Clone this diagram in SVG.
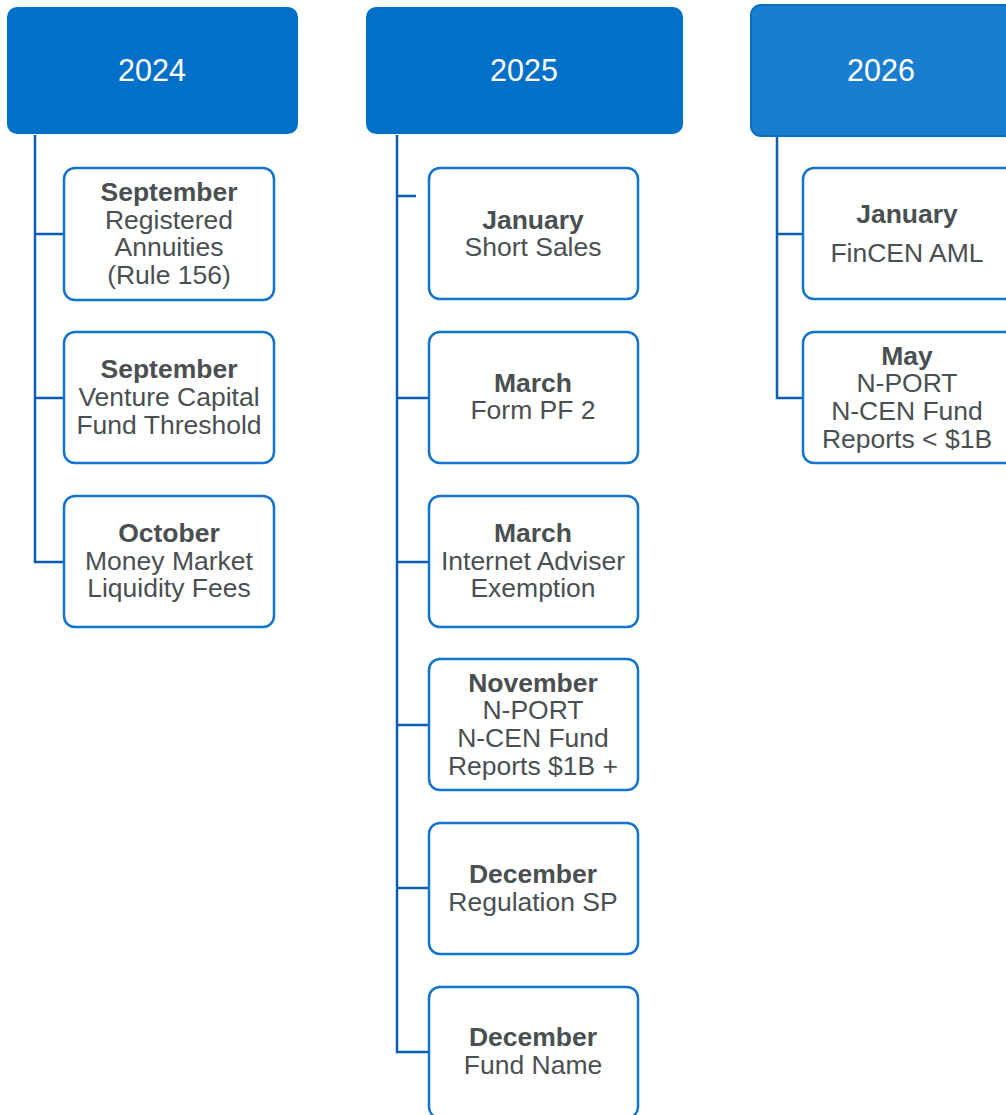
<svg xmlns="http://www.w3.org/2000/svg" width="1006" height="1115" viewBox="0 0 1006 1115">
<style>
.hdr{fill:#0070C9;}
.hdr2{fill:#1A7ED0;stroke:#0A6DC4;stroke-width:2;}
.ht{font-family:"Liberation Sans",Arial,sans-serif;font-size:30.5px;fill:#fff;text-anchor:middle;}
.box{fill:#fff;stroke:#1274CE;stroke-width:2.5;}
.t{font-family:"Liberation Sans",Arial,sans-serif;font-size:26.5px;fill:#4A4F52;text-anchor:middle;}
.b{font-weight:bold;}
.ln{fill:none;stroke:#0B5EB0;stroke-width:2.5;}
</style>
<rect width="1006" height="1115" fill="#fff"/>
<g id="connectors">
<path class="ln" d="M35,135 V562 H64 M35,234 H64 M35,398 H64"/>
<path class="ln" d="M397,135 V1052 H429 M397,196 H416 M397,398 H429 M397,562 H429 M397,725 H429 M397,888 H429"/>
<path class="ln" d="M777,136 V398 H803 M777,234 H803"/>
</g>
<g id="h2024"><rect class="hdr" x="7" y="7" width="291" height="127" rx="10"/><text class="ht" x="152" y="81">2024</text></g>
<g id="h2025"><rect class="hdr" x="366" y="7" width="317" height="127" rx="10"/><text class="ht" x="524" y="81">2025</text></g>
<g id="h2026"><rect class="hdr2" x="751" y="5" width="270" height="131" rx="10"/><text class="ht" x="881" y="81">2026</text></g>

<g id="n2024a"><rect class="box" x="64" y="168" width="210" height="132" rx="11"/>
<text class="t" x="169"><tspan class="b" x="169" y="201">September</tspan><tspan x="169" y="229">Registered</tspan><tspan x="169" y="256">Annuities</tspan><tspan x="169" y="284">(Rule 156)</tspan></text></g>
<g id="n2024b"><rect class="box" x="64" y="332" width="210" height="131" rx="11"/>
<text class="t"><tspan class="b" x="169" y="378">September</tspan><tspan x="169" y="406">Venture Capital</tspan><tspan x="169" y="434">Fund Threshold</tspan></text></g>
<g id="n2024c"><rect class="box" x="64" y="496" width="210" height="131" rx="11"/>
<text class="t"><tspan class="b" x="169" y="542">October</tspan><tspan x="169" y="570">Money Market</tspan><tspan x="169" y="597">Liquidity Fees</tspan></text></g>

<g id="n2025a"><rect class="box" x="429" y="168" width="209" height="131" rx="11"/>
<text class="t"><tspan class="b" x="533" y="229">January</tspan><tspan x="533" y="256">Short Sales</tspan></text></g>
<g id="n2025b"><rect class="box" x="429" y="332" width="209" height="131" rx="11"/>
<text class="t"><tspan class="b" x="533" y="392">March</tspan><tspan x="533" y="419">Form PF 2</tspan></text></g>
<g id="n2025c"><rect class="box" x="429" y="496" width="209" height="131" rx="11"/>
<text class="t"><tspan class="b" x="533" y="542">March</tspan><tspan x="533" y="570">Internet Adviser</tspan><tspan x="533" y="597">Exemption</tspan></text></g>
<g id="n2025d"><rect class="box" x="429" y="659" width="209" height="131" rx="11"/>
<text class="t"><tspan class="b" x="533" y="692">November</tspan><tspan x="533" y="719">N-PORT</tspan><tspan x="533" y="747">N-CEN Fund</tspan><tspan x="533" y="775">Reports $1B +</tspan></text></g>
<g id="n2025e"><rect class="box" x="429" y="823" width="209" height="131" rx="11"/>
<text class="t"><tspan class="b" x="533" y="883">December</tspan><tspan x="533" y="911">Regulation SP</tspan></text></g>
<g id="n2025f"><rect class="box" x="429" y="987" width="209" height="131" rx="11"/>
<text class="t"><tspan class="b" x="533" y="1046">December</tspan><tspan x="533" y="1074">Fund Name</tspan></text></g>

<g id="n2026a"><rect class="box" x="803" y="168" width="215" height="131" rx="11"/>
<text class="t"><tspan class="b" x="907" y="223">January</tspan><tspan x="907" y="262">FinCEN AML</tspan></text></g>
<g id="n2026b"><rect class="box" x="803" y="332" width="215" height="131" rx="11"/>
<text class="t"><tspan class="b" x="907" y="365">May</tspan><tspan x="907" y="392">N-PORT</tspan><tspan x="907" y="420">N-CEN Fund</tspan><tspan x="907" y="448">Reports &lt; $1B</tspan></text></g>
</svg>
